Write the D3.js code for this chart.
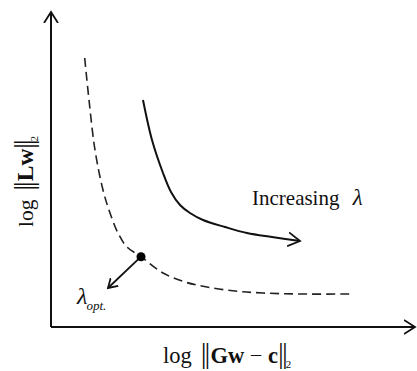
<!DOCTYPE html>
<html>
<head>
<meta charset="utf-8">
<script src="https://cdn.jsdelivr.net/npm/d3@7"></script>
<style>
  body { margin: 0; background: #fff; }
  text { font-family: "Liberation Serif", "Times New Roman", serif; fill: #111; }
</style>
</head>
<body>
<svg id="chart" width="417" height="371"></svg>
<script>
// L-curve sketch, values (arbitrary log units)
var dashedX = [33.7, 38, 44, 52, 59, 67, 76, 90, 112, 134, 156, 184, 212, 249, 299];
var dashedY = [269, 227, 177, 137, 114, 94, 80, 70.3, 54, 45, 40, 36, 34, 33, 33];
var solidX = [92, 101, 112, 120, 129, 139, 152, 174, 196, 221, 249];
var solidY = [227, 187, 154, 135, 122, 114, 107, 100, 94, 90, 86];
var optPoint = [90, 70.3];
var optArrowEnd = [57, 39];

var svg = d3.select("#chart");
var x = d3.scaleLinear().domain([0, 364]).range([51, 415]);
var y = d3.scaleLinear().domain([0, 315]).range([327, 12]);

var defs = svg.append("defs");
function marker(id, len, half) {
    defs.append("marker")
        .attr("id", id)
        .attr("viewBox", "0 " + (-half - 1) + " " + (len + 2) + " " + (2 * half + 2))
        .attr("refX", len).attr("refY", 0)
        .attr("markerUnits", "userSpaceOnUse")
        .attr("markerWidth", len + 2).attr("markerHeight", 2 * half + 2)
        .attr("orient", "auto")
        .append("path")
        .attr("d", "M0," + (-half) + "L" + len + ",0L0," + half)
        .attr("fill", "none").attr("stroke", "#111")
        .attr("stroke-width", 1.8).attr("stroke-linejoin", "miter");
}
marker("ax", 11, 7);
marker("cv", 12, 7);
marker("sm", 9, 5.5);

// axes
svg.append("line")
    .attr("x1", x(0)).attr("y1", y(0)).attr("x2", x(364)).attr("y2", y(0))
    .attr("stroke", "#111").attr("stroke-width", 2).attr("marker-end", "url(#ax)");
svg.append("line")
    .attr("x1", x(0)).attr("y1", y(0)).attr("x2", x(0)).attr("y2", y(315))
    .attr("stroke", "#111").attr("stroke-width", 2).attr("marker-end", "url(#ax)");

var line = d3.line()
    .x(function(d) { return x(d[0]); })
    .y(function(d) { return y(d[1]); })
    .curve(d3.curveCatmullRom.alpha(0.5));

svg.append("path")
    .datum(d3.zip(dashedX, dashedY))
    .attr("d", line)
    .attr("fill", "none").attr("stroke", "#222")
    .attr("stroke-width", 1.6).attr("stroke-dasharray", "9,5");

svg.append("path")
    .datum(d3.zip(solidX, solidY))
    .attr("d", line)
    .attr("fill", "none").attr("stroke", "#111")
    .attr("stroke-width", 2).attr("marker-end", "url(#cv)");

svg.append("line")
    .attr("x1", x(optPoint[0])).attr("y1", y(optPoint[1]))
    .attr("x2", x(optArrowEnd[0])).attr("y2", y(optArrowEnd[1]))
    .attr("stroke", "#111").attr("stroke-width", 1.8).attr("marker-end", "url(#sm)");

svg.append("circle")
    .attr("cx", x(optPoint[0])).attr("cy", y(optPoint[1]))
    .attr("r", 4.5).attr("fill", "#000");

// labels
var inc = svg.append("text").attr("x", x(201)).attr("y", y(122)).attr("font-size", 21);
inc.append("tspan").text("Increasing ");
inc.append("tspan").attr("font-style", "italic").attr("font-size", 23).attr("dx", 8).text("λ");

var opt = svg.append("text").attr("x", x(26)).attr("y", y(23))
    .attr("font-size", 24).attr("font-style", "italic");
opt.append("tspan").text("λ");
opt.append("tspan").attr("font-size", 13).attr("dy", 6).attr("dx", -1).text("opt.");

var xl = svg.append("text").attr("x", 163).attr("y", 363).attr("font-size", 22.5);
xl.append("tspan").text("log");
xl.append("tspan").attr("dx", 9).attr("font-size", 29).attr("letter-spacing", -2).text("||");
xl.append("tspan").attr("font-weight", "bold").attr("dx", 2).text("Gw");
xl.append("tspan").text(" − ");
xl.append("tspan").attr("font-weight", "bold").text("c");
xl.append("tspan").attr("font-size", 29).attr("letter-spacing", -2).text("||");
xl.append("tspan").attr("font-size", 11).attr("dy", 5).text("2");

var yl = svg.append("text").attr("transform", "translate(33,227) rotate(-90)").attr("font-size", 21.5);
yl.append("tspan").text("log");
yl.append("tspan").attr("dx", 9).attr("font-size", 28).attr("letter-spacing", -2).text("||");
yl.append("tspan").attr("font-weight", "bold").attr("font-size", 23.5).attr("dx", 2).text("Lw");
yl.append("tspan").attr("font-size", 28).attr("letter-spacing", -2).text("||");
yl.append("tspan").attr("font-size", 11).attr("dy", 5).text("2");
</script>
</body>
</html>
